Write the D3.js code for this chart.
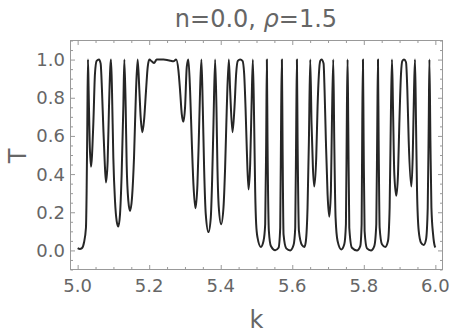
<!DOCTYPE html>
<html>
<head>
<meta charset="utf-8">
<script src="https://cdnjs.cloudflare.com/ajax/libs/d3/7.8.5/d3.min.js"></script>
<style>
  html, body { margin: 0; padding: 0; background: #fff; }
  svg text { font-family: "DejaVu Sans", sans-serif; fill: #666; }
</style>
</head>
<body>
<div id="chart"></div>
<script>
// k values
var kData = [
  5.000, 5.006, 5.012, 5.0176, 5.0232, 5.0251, 5.0270, 5.0288, 5.0307, 5.0335,
  5.0372, 5.0438, 5.0484, 5.0531, 5.0596, 5.0643, 5.0680, 5.0717, 5.0755, 5.0792,
  5.0839, 5.0876, 5.0913, 5.0932, 5.0960, 5.0997, 5.1044, 5.1091, 5.1137, 5.1184,
  5.1230, 5.1277, 5.1305, 5.1343, 5.1370, 5.1417, 5.1464, 5.1520, 5.1576, 5.1632,
  5.1678, 5.1725, 5.1762, 5.1809, 5.1856, 5.1912, 5.1958, 5.2005, 5.2070, 5.2136,
  5.2210, 5.2300, 5.2400, 5.2500, 5.2600, 5.2677, 5.2752, 5.2817, 5.2863, 5.2910,
  5.2956, 5.3003, 5.3050, 5.3095, 5.3143, 5.3190, 5.3237, 5.3293, 5.3349, 5.3386,
  5.3423, 5.3460, 5.3498, 5.3535, 5.3582, 5.3657, 5.3722, 5.3759, 5.3797, 5.3843,
  5.3880, 5.3908, 5.3946, 5.4011, 5.4077, 5.4123, 5.4170, 5.4226, 5.4263, 5.4329,
  5.4385, 5.4431, 5.4478, 5.4543, 5.4609, 5.4655, 5.4693, 5.4730, 5.4777, 5.4823,
  5.4861, 5.4898, 5.4935, 5.4963, 5.4991, 5.5029, 5.5122, 5.5196, 5.5243, 5.5271,
  5.5290, 5.5308, 5.5346, 5.5402, 5.5523, 5.5616, 5.5663, 5.5691, 5.5710, 5.5728,
  5.5756, 5.5831, 5.5943, 5.6036, 5.6083, 5.6111, 5.6130, 5.6149, 5.6186, 5.6270,
  5.6340, 5.6380, 5.6427, 5.6465, 5.6502, 5.6539, 5.6577, 5.6614, 5.6670, 5.6707,
  5.6745, 5.6782, 5.6819, 5.6875, 5.6903, 5.6940, 5.6987, 5.7034, 5.7080, 5.7108,
  5.7146, 5.7174, 5.7211, 5.7267, 5.7370, 5.7454, 5.7500, 5.7528, 5.7547, 5.7565,
  5.7594, 5.7668, 5.7808, 5.7901, 5.7939, 5.7957, 5.7976, 5.7995, 5.8022, 5.8088,
  5.8200, 5.8293, 5.8349, 5.8377, 5.8396, 5.8415, 5.8443, 5.8508, 5.8601, 5.8676,
  5.8722, 5.8760, 5.8788, 5.8816, 5.8853, 5.8909, 5.8956, 5.8993, 5.9040, 5.9077,
  5.9124, 5.9180, 5.9217, 5.9255, 5.9329, 5.9367, 5.9404, 5.9432, 5.9460, 5.9488,
  5.9535, 5.9600, 5.9675, 5.9740, 5.9787, 5.9815, 5.9834, 5.9862, 5.9890, 5.9937,
  5.9983, 6.000
];
// transmission T at those k
var tData = [
  0.012, 0.008, 0.012, 0.040, 0.119, 0.312, 0.663, 1.000, 0.839, 0.575,
  0.439, 0.663, 0.926, 0.993, 1.000, 0.979, 0.839, 0.646, 0.470, 0.356,
  0.470, 0.751, 0.961, 1.000, 0.839, 0.488, 0.260, 0.154, 0.125, 0.189,
  0.400, 0.751, 1.000, 0.751, 0.453, 0.260, 0.207, 0.277, 0.488, 0.839,
  1.000, 0.839, 0.698, 0.619, 0.681, 0.839, 0.961, 1.000, 0.991, 0.982,
  1.000, 1.000, 1.000, 0.998, 0.994, 0.991, 1.000, 0.944, 0.839, 0.716,
  0.675, 0.751, 0.961, 1.000, 0.839, 0.575, 0.347, 0.221, 0.347, 0.575,
  0.839, 1.000, 0.751, 0.435, 0.189, 0.096, 0.172, 0.365, 0.663, 1.000,
  0.751, 0.435, 0.225, 0.137, 0.225, 0.435, 0.751, 1.000, 0.839, 0.619,
  0.751, 0.926, 0.993, 1.000, 0.993, 0.926, 0.751, 0.523, 0.319, 0.453,
  0.751, 1.000, 0.663, 0.312, 0.137, 0.067, 0.018, 0.049, 0.137, 0.575,
  1.000, 0.575, 0.102, 0.023, 0.001, 0.014, 0.119, 0.751, 1.000, 0.575,
  0.084, 0.011, 0.000, 0.028, 0.119, 0.663, 1.000, 0.575, 0.102, 0.028,
  0.018, 0.049, 0.225, 0.575, 1.000, 0.663, 0.435, 0.335, 0.488, 0.751,
  0.926, 0.993, 1.000, 0.979, 0.839, 0.575, 0.295, 0.177, 0.312, 0.663,
  1.000, 0.575, 0.172, 0.049, 0.005, 0.032, 0.137, 0.751, 1.000, 0.663,
  0.119, 0.014, 0.000, 0.023, 0.137, 0.663, 1.000, 0.575, 0.102, 0.011,
  0.000, 0.023, 0.137, 0.663, 1.000, 0.575, 0.119, 0.032, 0.018, 0.049,
  0.225, 0.751, 1.000, 0.751, 0.400, 0.286, 0.400, 0.663, 0.926, 0.993,
  1.000, 0.986, 0.839, 0.575, 0.335, 0.488, 0.839, 1.000, 0.663, 0.312,
  0.102, 0.040, 0.028, 0.058, 0.225, 0.663, 1.000, 0.575, 0.225, 0.084,
  0.023, 0.015
];
var xTicks = [5.0, 5.2, 5.4, 5.6, 5.8, 6.0];
var yTicks = [0.0, 0.2, 0.4, 0.6, 0.8, 1.0];
var titleN = "n=0.0, ";
var titleRho = "\u03c1";
var titleRest = "=1.5";
var xLabel = "k";
var yLabel = "T";

var width = 450, height = 336;
var frame = { left: 70.5, right: 442.5, top: 40.5, bottom: 269.5 };

var x = d3.scaleLinear().domain([4.98, 6.02]).range([frame.left, frame.right]);
var y = d3.scaleLinear().domain([-0.1, 1.1]).range([frame.bottom, frame.top]);

var svg = d3.select('#chart').append('svg')
  .attr('width', width)
  .attr('height', height);

// curve
var points = kData.map(function (k, i) { return [k, tData[i]]; });
var line = d3.line()
  .x(function (d) { return x(d[0]); })
  .y(function (d) { return y(d[1]); })
  .curve(d3.curveMonotoneX);

svg.append('defs').append('clipPath').attr('id', 'clip')
  .append('rect')
  .attr('x', frame.left).attr('y', frame.top)
  .attr('width', frame.right - frame.left)
  .attr('height', frame.bottom - frame.top);

svg.append('path')
  .datum(points)
  .attr('clip-path', 'url(#clip)')
  .attr('fill', 'none')
  .attr('stroke', '#262626')
  .attr('stroke-width', 2)
  .attr('stroke-linejoin', 'round')
  .attr('d', line);

// frame
svg.append('rect')
  .attr('x', frame.left).attr('y', frame.top)
  .attr('width', frame.right - frame.left)
  .attr('height', frame.bottom - frame.top)
  .attr('fill', 'none')
  .attr('stroke', '#999')
  .attr('stroke-width', 1);

// ticks, inward on all four sides (labels only bottom/left)
var xMinor = d3.range(0, 21).map(function (i) { return 5 + i * 0.05; });
var yMinor = d3.range(-2, 23).map(function (i) { return i * 0.05; });
var major = 4.5, minor = 2.5;

function isMajor(v) { return Math.abs(v * 5 - Math.round(v * 5)) < 1e-6; }

var axisBottom = d3.axisBottom(x).tickValues(xMinor).tickSizeInner(-minor).tickSizeOuter(0).tickFormat('');
var axisTop = d3.axisTop(x).tickValues(xMinor).tickSizeInner(-minor).tickSizeOuter(0).tickFormat('');
var axisLeft = d3.axisLeft(y).tickValues(yMinor.filter(function (v) { return v >= -0.1 && v <= 1.1; })).tickSizeInner(-minor).tickSizeOuter(0).tickFormat('');
var axisRight = d3.axisRight(y).tickValues(yMinor.filter(function (v) { return v >= -0.1 && v <= 1.1; })).tickSizeInner(-minor).tickSizeOuter(0).tickFormat('');

function drawAxis(ax, tx, ty, horizontal, sign) {
  var g = svg.append('g').attr('transform', 'translate(' + tx + ',' + ty + ')').call(ax);
  g.select('.domain').remove();
  g.selectAll('.tick line')
    .attr('stroke', '#999')
    .each(function (d) {
      var len = isMajor(d) ? major : minor;
      if (horizontal) d3.select(this).attr('y2', sign * len);
      else d3.select(this).attr('x2', sign * len);
    });
}
drawAxis(axisBottom, 0, frame.bottom, true, -1);
drawAxis(axisTop, 0, frame.top, true, 1);
drawAxis(axisLeft, frame.left, 0, false, 1);
drawAxis(axisRight, frame.right, 0, false, -1);

// tick labels
svg.append('g').selectAll('text')
  .data(xTicks).enter().append('text')
  .attr('x', function (d) { return x(d); })
  .attr('y', 292)
  .attr('text-anchor', 'middle')
  .style('font-size', '18px')
  .text(function (d) { return d.toFixed(1); });

svg.append('g').selectAll('text')
  .data(yTicks).enter().append('text')
  .attr('x', 65)
  .attr('y', function (d) { return y(d) + 6.5; })
  .attr('text-anchor', 'end')
  .style('font-size', '18px')
  .text(function (d) { return d.toFixed(1); });

// axis labels
svg.append('text')
  .attr('x', (frame.left + frame.right) / 2)
  .attr('y', 328)
  .attr('text-anchor', 'middle')
  .style('font-size', '24px')
  .text(xLabel);

svg.append('text')
  .attr('transform', 'translate(26,' + 156 + ') rotate(-90)')
  .attr('text-anchor', 'middle')
  .style('font-size', '24px')
  .text(yLabel);

// title
var title = svg.append('text')
  .attr('x', 256)
  .attr('y', 27)
  .attr('text-anchor', 'middle')
  .style('font-size', '24px');
title.append('tspan').text(titleN);
title.append('tspan').style('font-style', 'italic').text(titleRho);
title.append('tspan').text(titleRest);
</script>
</body>
</html>
